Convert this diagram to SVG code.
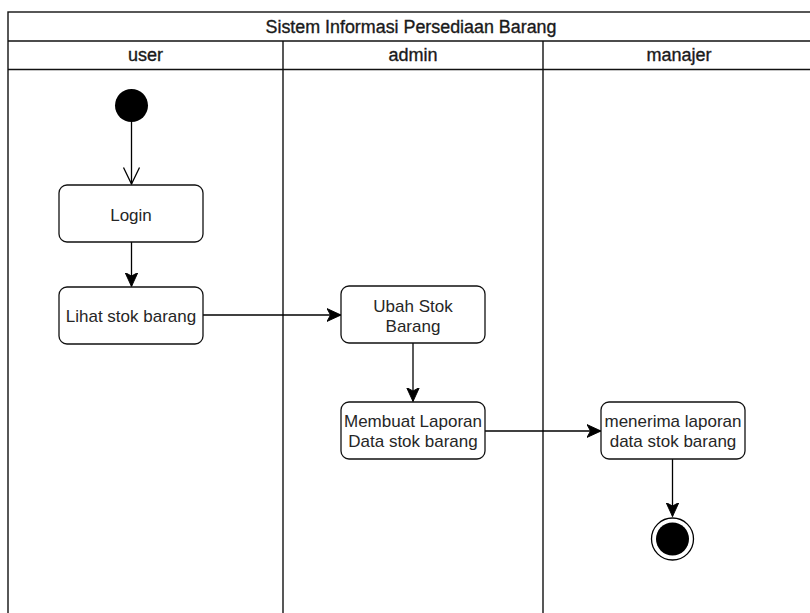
<svg xmlns="http://www.w3.org/2000/svg" width="810" height="613" viewBox="0 0 810 613">
<style>
.frame{fill:none;stroke:#111;stroke-width:1.4}
.node{fill:#fff;stroke:#111;stroke-width:1.3}
.hdr{font-family:"Liberation Sans",Arial,sans-serif;font-size:18px;fill:#1a1a1a;text-anchor:middle;stroke:#1a1a1a;stroke-width:0.35}
.lbl{font-family:"Liberation Sans",Arial,sans-serif;font-size:17px;fill:#262626;text-anchor:middle}
.edge{fill:none;stroke:#000;stroke-width:1.3}
</style>
<defs>
<marker id="arr" markerUnits="userSpaceOnUse" markerWidth="14" markerHeight="14" viewBox="0 0 12 12" refX="12" refY="6" orient="auto">
<path d="M0,0.5 L12,6 L0,11.5 L3,6 Z" fill="#000" stroke="#000" stroke-width="0.8"/>
</marker>
<marker id="open" markerUnits="userSpaceOnUse" markerWidth="20" markerHeight="20" viewBox="0 0 20 20" refX="18" refY="10" orient="auto">
<path d="M1.5,2 L18,10 L1.5,18" fill="none" stroke="#000" stroke-width="1.3"/>
</marker>
</defs>
<rect width="810" height="613" fill="#fff"/>
<g id="pool">
<rect class="frame" x="8" y="12" width="810" height="620"/>
<line class="frame" x1="8" y1="41" x2="818" y2="41"/>
<line class="frame" x1="8" y1="69.5" x2="818" y2="69.5"/>
<text class="hdr" x="411" y="33" textLength="291" lengthAdjust="spacingAndGlyphs">Sistem Informasi Persediaan Barang</text>
</g>
<g id="lane-user">
<text class="hdr" x="145.5" y="61">user</text>
</g>
<g id="lane-admin">
<line class="frame" x1="283" y1="41" x2="283" y2="620"/>
<text class="hdr" x="413" y="61">admin</text>
</g>
<g id="lane-manajer">
<line class="frame" x1="543" y1="41" x2="543" y2="620"/>
<text class="hdr" x="679" y="61">manajer</text>
</g>
<g id="connectors">
<line class="edge" x1="131.5" y1="122" x2="131.5" y2="184" marker-end="url(#open)"/>
<line class="edge" x1="131.5" y1="242" x2="131.5" y2="286.5" marker-end="url(#arr)"/>
<line class="edge" x1="203" y1="315" x2="341" y2="315" marker-end="url(#arr)"/>
<line class="edge" x1="413" y1="343" x2="413" y2="401.5" marker-end="url(#arr)"/>
<line class="edge" x1="485" y1="431" x2="601" y2="431" marker-end="url(#arr)"/>
<line class="edge" x1="672.5" y1="459" x2="672.5" y2="516.5" marker-end="url(#arr)"/>
</g>
<g id="start">
<circle cx="131.5" cy="105.5" r="16.5" fill="#000"/>
</g>
<g id="login">
<rect class="node" x="59" y="185" width="144" height="57" rx="8"/>
<text class="lbl" x="131" y="220.5">Login</text>
</g>
<g id="lihat">
<rect class="node" x="59" y="287" width="144" height="57" rx="8"/>
<text class="lbl" x="131" y="322">Lihat stok barang</text>
</g>
<g id="ubah">
<rect class="node" x="341" y="286" width="144" height="57" rx="8"/>
<text class="lbl" x="413" y="311.5">Ubah Stok</text>
<text class="lbl" x="413" y="331.5">Barang</text>
</g>
<g id="membuat">
<rect class="node" x="341" y="402" width="144" height="57" rx="8"/>
<text class="lbl" x="413" y="427">Membuat Laporan</text>
<text class="lbl" x="413" y="447">Data stok barang</text>
</g>
<g id="menerima">
<rect class="node" x="601" y="402" width="144" height="57" rx="8"/>
<text class="lbl" x="673" y="427">menerima laporan</text>
<text class="lbl" x="673" y="447">data stok barang</text>
</g>
<g id="end">
<circle cx="672.5" cy="539" r="21" fill="#fff" stroke="#000" stroke-width="1.3"/>
<circle cx="672.5" cy="539" r="16.5" fill="#000"/>
</g>
</svg>
